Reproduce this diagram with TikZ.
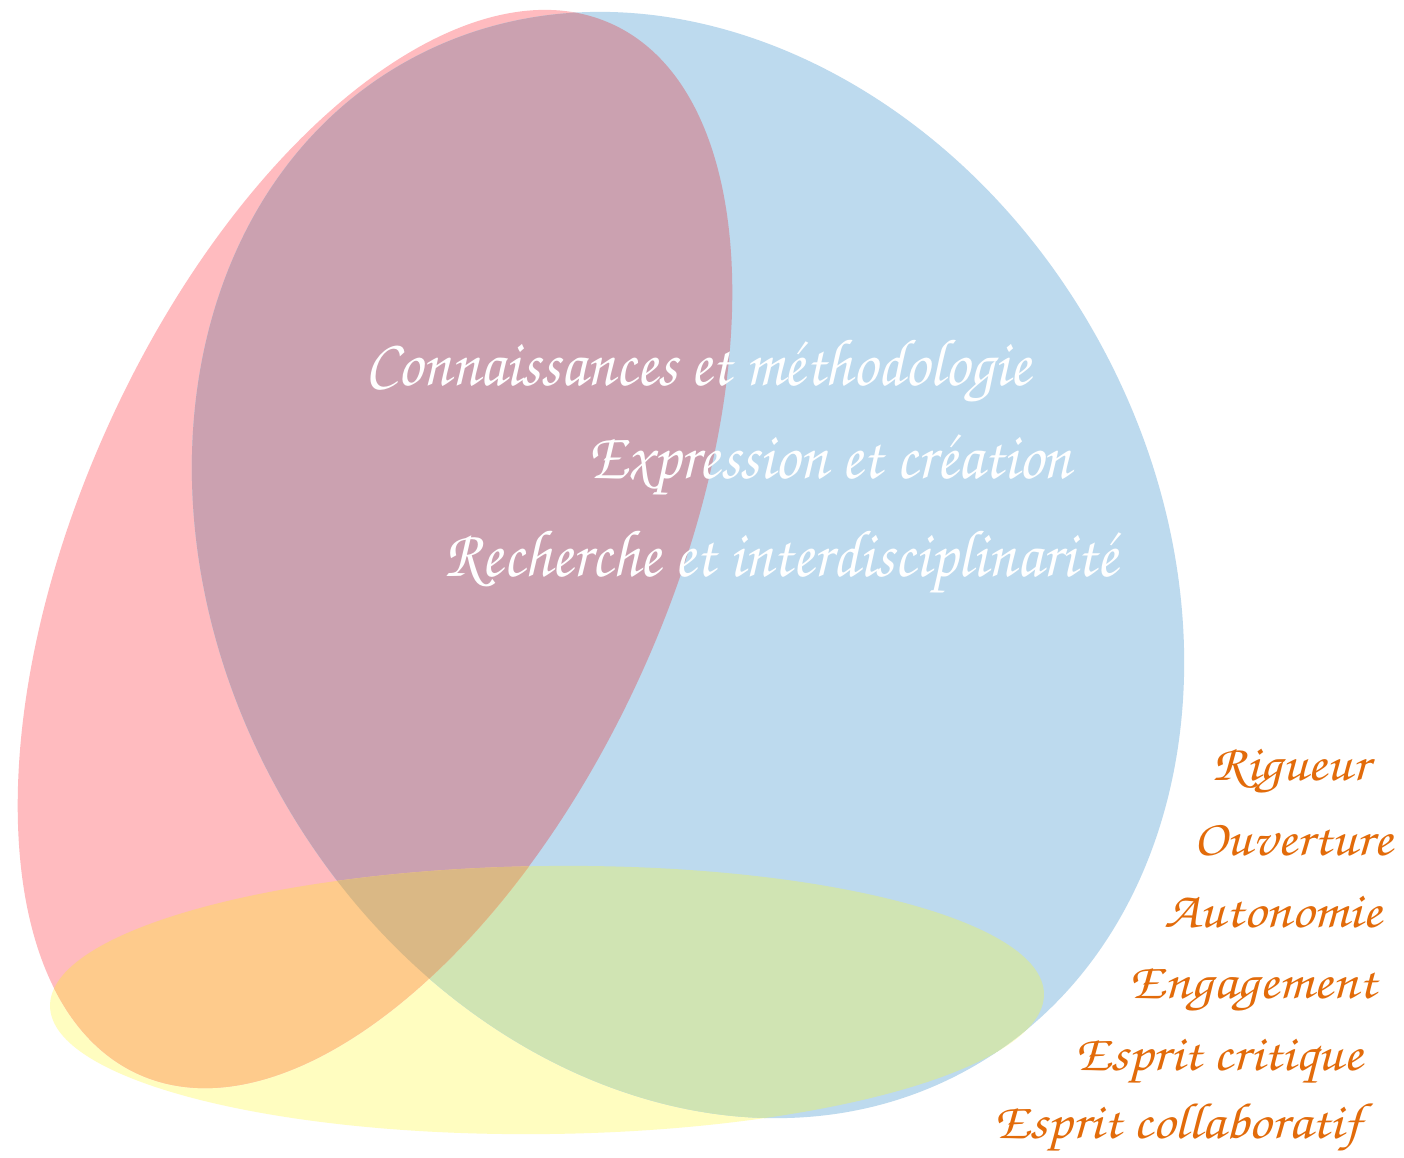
\documentclass[tikz,border=0pt]{standalone}
\usepackage[T1]{fontenc}
\usepackage{graphicx}
\newcommand\chancery{\fontfamily{pzc}\fontseries{mb}\fontshape{it}\selectfont}
\definecolor{pinkc}{HTML}{FFBBBF}
\definecolor{bluec}{HTML}{BDDAEE}
\definecolor{yellowc}{HTML}{FFFDC0}
\definecolor{mauvec}{HTML}{CBA1B0}
\definecolor{orangec}{HTML}{FECB8C}
\definecolor{greenc}{HTML}{D0E4B3}
\definecolor{tanc}{HTML}{DAB885}
\definecolor{textorange}{HTML}{E26B0A}
\newcommand\redP{(3.75,-5.49) ellipse (5.76 and 2.94)}
\newcommand\blueP{(6.88,-5.65) ellipse (5.77 and 4.68)}
\newcommand\yellowP{(5.47,-10.00) ellipse (4.97 and 1.34)}
\newcommand\bigtxt[1]{\scalebox{0.93}[1]{#1}}
\newcommand\smalltxt[1]{\scalebox{1.1}[1]{#1}}
\tikzset{
  redT/.style={rotate around={65.8:(3.75,-5.49)}},
  blueT/.style={rotate around={-60.8:(6.88,-5.65)}},
  yellowT/.style={rotate around={0.7:(5.47,-10.00)}},
  bigtext/.style={text=white, anchor=base, inner sep=0pt, font=\chancery\fontsize{19}{22}\selectfont},
  smalltext/.style={text=textorange, anchor=base, inner sep=0pt, font=\chancery\fontsize{14.5}{17}\selectfont}
}
\begin{document}
\begin{tikzpicture}
\fill[white] (0,0) rectangle (14.04,-11.57);
\useasboundingbox (0,0) rectangle (14.04,-11.57);
% base shapes
\fill[yellowc, yellowT] \yellowP;
\fill[pinkc, redT] \redP;
\fill[bluec, blueT] \blueP;
% blue over yellow
\begin{scope}
  \clip[blueT] \blueP;
  \fill[greenc, yellowT] \yellowP;
\end{scope}
% overlaps inside the red ellipse
\begin{scope}
  \clip[redT] \redP;
  \fill[mauvec, blueT] \blueP;
  \fill[orangec, yellowT] \yellowP;
  \clip[blueT] \blueP;
  \fill[tanc, yellowT] \yellowP;
\end{scope}
% texts
\node[bigtext] (t1) at (6.98,-3.85) {\bigtxt{Connaissances et m\'ethodologie}};
\node[bigtext] (t2) at (8.30,-4.78) {\bigtxt{Expression et cr\'eation}};
\node[bigtext] (t3) at (7.81,-5.76) {\bigtxt{Recherche et interdisciplinarit\'e}};
\node[smalltext] (s1) at (12.91,-7.80) {\smalltxt{Rigueur}};
\node[smalltext] (s2) at (12.93,-8.55) {\smalltxt{Ouverture}};
\node[smalltext] (s3) at (12.73,-9.27) {\smalltxt{Autonomie}};
\node[smalltext] (s4) at (12.53,-9.98) {\smalltxt{Engagement}};
\node[smalltext] (s5) at (12.19,-10.70) {\smalltxt{Esprit critique}};
\node[smalltext] (s6) at (11.78,-11.38) {\smalltxt{Esprit collaboratif}};
\end{tikzpicture}
\end{document}
